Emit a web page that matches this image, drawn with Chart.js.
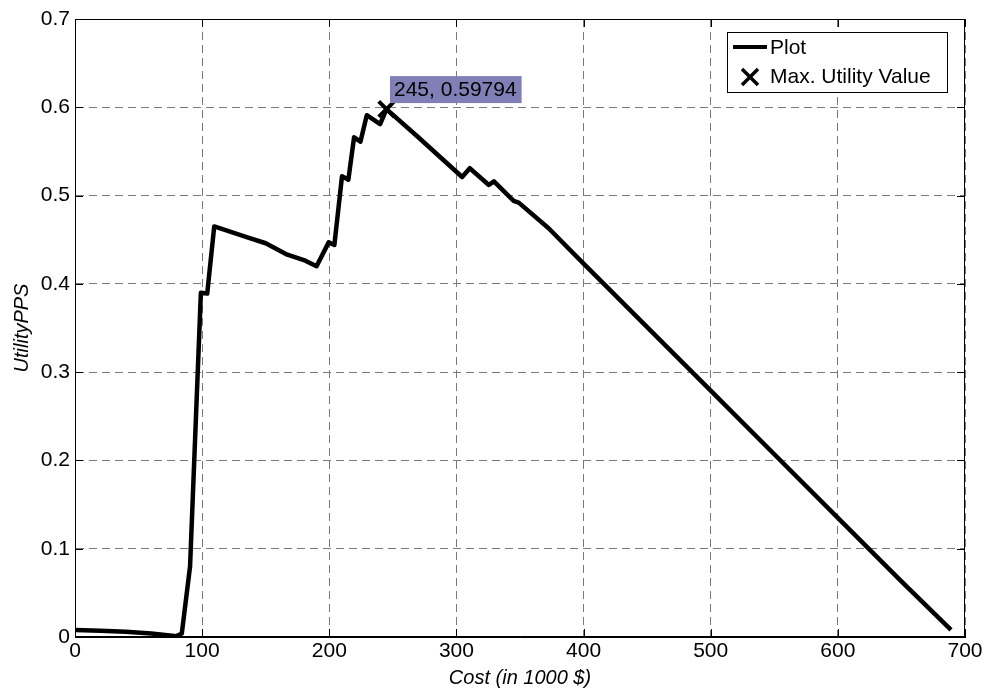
<!DOCTYPE html>
<html lang="en">
<head>
    <meta charset="UTF-8">
    <title>UtilityPPS vs Cost</title>
    <script src="https://cdn.jsdelivr.net/npm/chart.js"></script>
    <style>
        body {
            margin: 0;
            padding: 0;
            background-color: #ffffff;
        }
        #chart {
            display: block;
        }
    </style>
</head>
<body>
    <canvas id="chart" width="987" height="690"></canvas>

    <script>
        // Data
        const costs = [0, 20, 40, 60, 80, 84, 90.5, 99, 104, 109.5, 135, 150, 167, 180, 190,
                       199.5, 204, 210, 215, 219.5, 224.5, 229.5, 240, 245, 270, 304.5, 310.5,
                       325.5, 329.5, 345, 349, 372.5, 400, 450, 500, 550, 600, 650, 689];
        const utility = [0.008, 0.007, 0.006, 0.004, 0.001, 0.004, 0.08, 0.39, 0.389, 0.465, 0.453, 0.446, 0.433, 0.427, 0.42,
                         0.447, 0.444, 0.522, 0.518, 0.566, 0.561, 0.591, 0.581, 0.59794, 0.566, 0.521, 0.531,
                         0.512, 0.516, 0.494, 0.492, 0.463, 0.423, 0.351, 0.279, 0.207, 0.135, 0.063, 0.008];
        const maxCost = [245];
        const maxUtility = [0.59794];

        const xTicks = [0, 100, 200, 300, 400, 500, 600, 700];
        const xTickLabels = ['0', '100', '200', '300', '400', '500', '600', '700'];
        const yTicks = [0, 0.1, 0.2, 0.3, 0.4, 0.5, 0.6, 0.7];
        const yTickLabels = ['0', '0.1', '0.2', '0.3', '0.4', '0.5', '0.6', '0.7'];

        const FONT = '"Liberation Sans", Arial, sans-serif';

        // axis box, inward ticks, legend and data tip, like the matlab figure
        const matlabPlugin = {
            id: 'matlabBox',
            afterDraw(chart) {
                const ctx = chart.ctx;
                const a = chart.chartArea;
                const x = chart.scales.x;
                const y = chart.scales.y;
                ctx.save();
                ctx.setLineDash([]);
                ctx.strokeStyle = '#000';
                ctx.lineWidth = 1;
                ctx.strokeRect(a.left + 0.5, a.top + 0.5, a.right - a.left - 1, a.bottom - a.top - 1);

                ctx.beginPath();
                xTicks.forEach(v => {
                    const px = Math.round(x.getPixelForValue(v)) + 0.5;
                    ctx.moveTo(px, a.bottom); ctx.lineTo(px, a.bottom - 8);
                    ctx.moveTo(px, a.top); ctx.lineTo(px, a.top + 8);
                });
                yTicks.forEach(v => {
                    const py = Math.round(y.getPixelForValue(v)) + 0.5;
                    ctx.moveTo(a.left, py); ctx.lineTo(a.left + 8, py);
                    ctx.moveTo(a.right, py); ctx.lineTo(a.right - 8, py);
                });
                ctx.stroke();

                // data tip
                const mx = x.getPixelForValue(maxCost[0]);
                const my = y.getPixelForValue(maxUtility[0]);
                const tip = maxCost[0] + ', ' + maxUtility[0];
                ctx.font = '21px ' + FONT;
                const tw = ctx.measureText(tip).width;
                const bx = mx + 3.5, by = my - 33;
                ctx.fillStyle = 'rgb(128,128,182)';
                ctx.fillRect(bx, by, tw + 9, 27);
                ctx.fillStyle = '#000';
                ctx.textBaseline = 'middle';
                ctx.textAlign = 'left';
                ctx.fillText(tip, bx + 4, by + 14);

                // legend
                const lx = a.right - 238, ly = a.top + 13, lw = 220, lh = 60;
                ctx.fillStyle = '#fff';
                ctx.fillRect(lx, ly, lw, lh);
                ctx.strokeStyle = '#000';
                ctx.lineWidth = 1;
                ctx.strokeRect(lx + 0.5, ly + 0.5, lw, lh);

                ctx.lineWidth = 4;
                ctx.beginPath();
                ctx.moveTo(lx + 6, ly + 15);
                ctx.lineTo(lx + 40, ly + 15);
                ctx.stroke();

                ctx.lineWidth = 3.5;
                ctx.beginPath();
                const cx = lx + 23, cy = ly + 45, r = 8;
                ctx.moveTo(cx - r, cy - r); ctx.lineTo(cx + r, cy + r);
                ctx.moveTo(cx + r, cy - r); ctx.lineTo(cx - r, cy + r);
                ctx.stroke();

                ctx.fillStyle = '#000';
                ctx.fillText(chart.data.datasets[0].label, lx + 43, ly + 16);
                ctx.fillText(chart.data.datasets[1].label, lx + 43, ly + 45);
                ctx.restore();
            }
        };

        const lineData = costs.map((c, i) => ({ x: c, y: utility[i] }));
        const maxData = maxCost.map((c, i) => ({ x: c, y: maxUtility[i] }));

        new Chart(document.getElementById('chart'), {
            type: 'line',
            data: {
                datasets: [{
                    label: 'Plot',
                    data: lineData,
                    borderColor: '#000',
                    borderWidth: 4.5,
                    pointRadius: 0,
                    tension: 0,
                    borderJoinStyle: 'round'
                }, {
                    label: 'Max. Utility Value',
                    data: maxData,
                    showLine: false,
                    pointStyle: 'crossRot',
                    pointRadius: 11,
                    borderColor: '#000',
                    borderWidth: 4
                }]
            },
            options: {
                responsive: false,
                animation: false,
                devicePixelRatio: 1,
                layout: { padding: { top: 19, right: 22, left: 0, bottom: 0 } },
                plugins: {
                    legend: { display: false },
                    tooltip: { enabled: false }
                },
                scales: {
                    x: {
                        type: 'linear',
                        min: 0,
                        max: 700,
                        afterBuildTicks: s => { s.ticks = xTicks.map(v => ({ value: v })); },
                        afterFit: s => { s.height = 53; },
                        ticks: {
                            callback: (v, i) => xTickLabels[i],
                            color: '#000',
                            font: { family: FONT, size: 21 },
                            padding: 2,
                            maxRotation: 0
                        },
                        grid: { color: '#7a7a7a', lineWidth: 1, drawTicks: false },
                        border: { display: true, color: '#000', dash: [8, 5] },
                        title: {
                            display: true,
                            text: 'Cost (in 1000 $)',
                            color: '#000',
                            font: { family: FONT, size: 20, style: 'italic' },
                            padding: { top: 0, bottom: 0 }
                        }
                    },
                    y: {
                        type: 'linear',
                        min: 0,
                        max: 0.7,
                        afterBuildTicks: s => { s.ticks = yTicks.map(v => ({ value: v })); },
                        afterFit: s => { s.width = 75; },
                        ticks: {
                            callback: (v, i) => yTickLabels[i],
                            color: '#000',
                            font: { family: FONT, size: 21 },
                            padding: 5
                        },
                        grid: { color: '#7a7a7a', lineWidth: 1, drawTicks: false },
                        border: { display: true, color: '#000', dash: [8, 5] },
                        title: {
                            display: true,
                            text: 'UtilityPPS',
                            color: '#000',
                            font: { family: FONT, size: 20, style: 'italic' },
                            padding: { top: 10, bottom: 0 }
                        }
                    }
                }
            },
            plugins: [matlabPlugin]
        });
    </script>
</body>
</html>
